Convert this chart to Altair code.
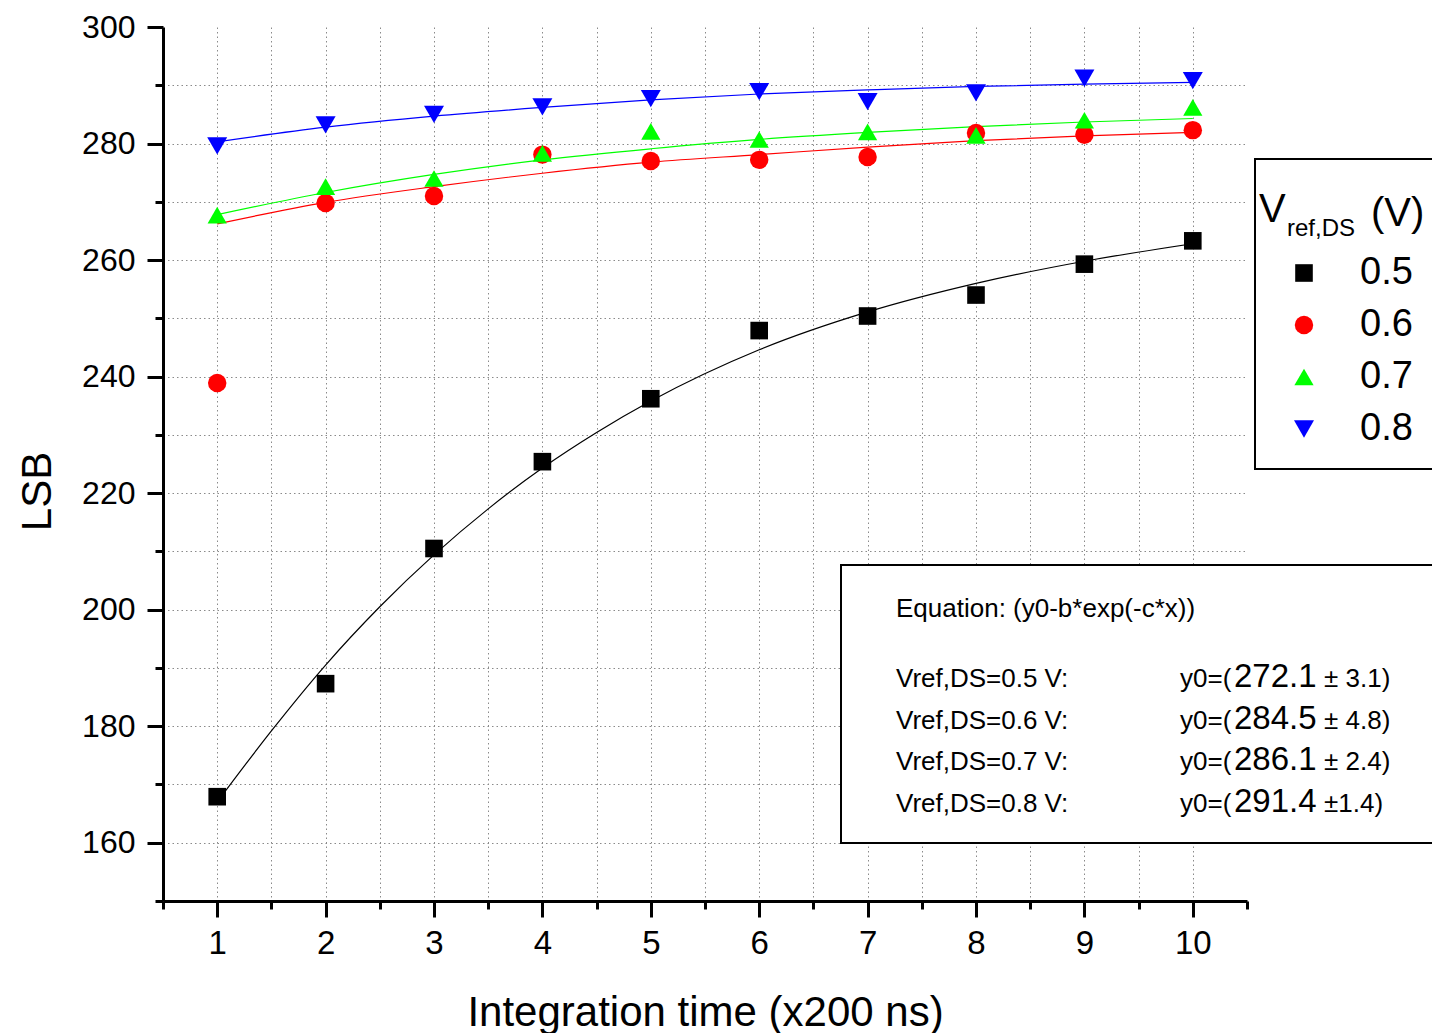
import altair as alt
import pandas as pd

FONT = "Liberation Sans"

# ---------------- data ----------------
x_vals = [1, 2, 3, 4, 5, 6, 7, 8, 9, 10]
series_names = ["0.5", "0.6", "0.7", "0.8"]

lsb_05 = [167.9, 187.3, 210.5, 225.4, 236.2, 247.9, 250.4, 254.0, 259.3, 263.3]
lsb_06 = [238.9, 269.8, 271.0, 278.1, 277.0, 277.2, 277.7, 281.8, 281.5, 282.3]
lsb_07 = [267.7, 272.6, 274.0, 278.3, 282.1, 280.7, 282.0, 281.4, 284.0, 286.2]
lsb_08 = [279.6, 283.2, 285.0, 286.3, 287.7, 288.9, 287.2, 288.7, 291.2, 290.8]

# fitted curves (y0 - b*exp(-c*x))
fit_x_05 = [1, 1.5, 2, 2.5, 3, 3.5, 4, 4.5, 5, 6, 7, 8, 9, 10]
fit_05 = [167.0, 179.2, 190.5, 200.5, 209.4, 217.3, 224.3, 230.4, 235.8,
          244.6, 251.1, 256.0, 259.8, 262.8]
fit_06 = [266.2, 269.9, 272.6, 274.9, 276.8, 278.1, 279.4, 280.5, 281.3, 281.9]
fit_07 = [267.8, 271.6, 274.7, 277.2, 279.1, 280.7, 281.9, 282.9, 283.7, 284.3]
fit_08 = [280.3, 282.8, 284.7, 286.2, 287.5, 288.5, 289.2, 289.8, 290.2, 290.5]

eq_labels = ["Vref,DS=0.5 V:", "Vref,DS=0.6 V:", "Vref,DS=0.7 V:", "Vref,DS=0.8 V:"]
y0_vals = ["272.1", "284.5", "286.1", "291.4"]
y0_errs = ["\u00b1 3.1)", "\u00b1 4.8)", "\u00b1 2.4)", "\u00b11.4)"]

colors = ["#000000", "#ff0000", "#00ff00", "#0000ff"]
shapes = ["square", "circle", "triangle-up", "triangle-down"]
sizes = [310, 400, 800, 800]

# ---------------- tables ----------------
rows = []
for name, ys in zip(series_names, [lsb_05, lsb_06, lsb_07, lsb_08]):
    for xv, yv in zip(x_vals, ys):
        rows.append({"x": xv, "lsb": yv, "series": name})
points = pd.DataFrame(rows)

frows = []
for xv, yv in zip(fit_x_05, fit_05):
    frows.append({"x": xv, "lsb": yv, "series": "0.5"})
for name, ys in zip(series_names[1:], [fit_06, fit_07, fit_08]):
    for xv, yv in zip(x_vals, ys):
        frows.append({"x": xv, "lsb": yv, "series": name})
fits = pd.DataFrame(frows)

x_ticks = [v / 2 for v in range(1, 22)]
y_ticks = list(range(150, 301, 10))

x_axis = alt.Axis(
    values=x_ticks, format="~g",
    labelExpr="datum.value % 1 === 0 ? datum.label : ''",
    tickSize={"condition": {"test": "datum.value % 1 === 0", "value": 16}, "value": 8},
    gridOpacity={"condition": {"test": "datum.value === 10.5 || datum.value === 0.5", "value": 0}, "value": 1},
    labelFlush=False, labelOverlap=False,
    labelFontSize=33, labelPadding=10,
    title="Integration time (x200 ns)", titleFontSize=42,
    titleBaseline="alphabetic", titleY=124,
)
y_axis = alt.Axis(
    values=y_ticks, format="d",
    labelExpr="datum.value % 20 === 0 ? datum.label : ''",
    tickSize={"condition": {"test": "datum.value % 20 === 0", "value": 16}, "value": 8},
    gridOpacity={"condition": {"test": "datum.value === 300 || datum.value === 150", "value": 0}, "value": 1},
    labelFlush=False, labelOverlap=False,
    labelFontSize=32, labelPadding=12,
    title="LSB", titleFontSize=42, titleAngle=270,
    titleBaseline="alphabetic", titleX=-113, titleY=464, titleAlign="center",
)

X = alt.X("x:Q", scale=alt.Scale(domain=[0.5, 10.5], nice=False, zero=False), axis=x_axis)
Y = alt.Y("lsb:Q", scale=alt.Scale(domain=[150, 300], nice=False, zero=False), axis=y_axis)

# one fitted line per series, coloured like its markers
line_layers = []
for name, col in zip(series_names, colors):
    line_layers.append(
        alt.Chart(fits).transform_filter(alt.datum.series == name)
        .mark_line(strokeWidth=1.2, interpolate="monotone", color=col)
        .encode(x=X, y=Y)
    )

legend = alt.Legend(
    orient="none", legendX=1122, legendY=227, title=None,
    labelFontSize=38, labelFont=FONT, labelColor="black", labelOffset=37,
    symbolStrokeWidth=0, symbolOpacity=1, rowPadding=14, padding=0,
)
pts = alt.Chart(points).mark_point(filled=True, opacity=1, strokeWidth=0).encode(
    x=X, y=Y,
    color=alt.Color("series:N", scale=alt.Scale(domain=series_names, range=colors), legend=legend),
    shape=alt.Shape("series:N", scale=alt.Scale(domain=series_names, range=shapes), legend=legend),
    size=alt.Size("series:N", scale=alt.Scale(domain=series_names, range=sizes), legend=legend),
)

one = alt.Data(values=[{"k": 0}])


def box(x1, x2, y1, y2):
    return alt.Chart(one).mark_rect(fill="white", stroke="black", strokeWidth=2).encode(
        x=alt.value(x1), x2=alt.value(x2), y=alt.value(y1), y2=alt.value(y2))


def txt(s, x, y, size, align="left"):
    return alt.Chart(one).mark_text(
        align=align, baseline="alphabetic", font=FONT, fontSize=size, color="black"
    ).encode(x=alt.value(x), y=alt.value(y), text=alt.value(s))


layers = line_layers + [pts, box(1092, 1320, 132, 442), box(678, 1320, 538, 816)]
# legend title  V_ref,DS (V)
layers += [txt("V", 1096, 195, 40), txt("ref,DS", 1124, 209, 24), txt("(V)", 1208, 199, 40)]
# equation box
layers.append(txt("Equation: (y0-b*exp(-c*x))", 733, 590, 26))
for i in range(4):
    yb = 687 + i * 41.7 - 27
    layers.append(txt(eq_labels[i], 733, yb, 26))
    layers.append(txt("y0=(", 1017, yb, 26))
    layers.append(txt(y0_vals[i], 1071, yb, 33))
    layers.append(txt(y0_errs[i], 1161, yb, 26))

chart = alt.layer(*layers).properties(
    width=1084, height=874,
    autosize=alt.AutoSizeParams(type="none"),
    padding={"left": 163, "top": 27, "right": 185, "bottom": 132},
).configure(font=FONT, background="white").configure_view(stroke="transparent").configure_axis(
    domainColor="black", domainWidth=3, tickColor="black", tickWidth=3,
    labelColor="black", labelFont=FONT, titleFont=FONT, titleColor="black",
    titleFontWeight="normal", grid=True, gridColor="#8a8a8a", gridDash=[1.5, 3], gridWidth=1,
)

chart.save("out.html", embed_options={"renderer": "svg", "actions": False})
